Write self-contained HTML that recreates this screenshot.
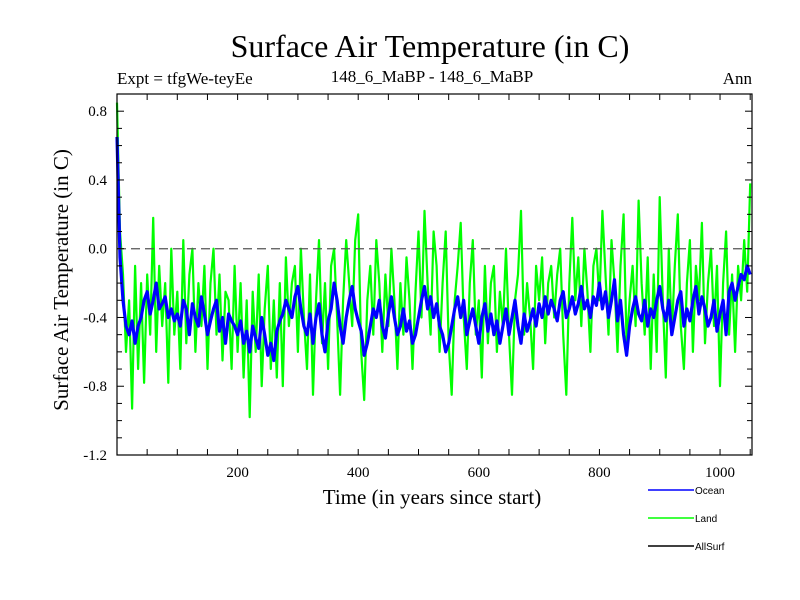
<!DOCTYPE html>
<html><head><meta charset="utf-8"><style>
html,body{margin:0;padding:0;background:#fff;width:800px;height:600px;overflow:hidden}
svg{display:block}
</style></head><body>
<svg id="chart" width="800" height="600" xmlns="http://www.w3.org/2000/svg">
<text x="430" y="57" text-anchor="middle" font-family="Liberation Serif, serif" font-size="32">Surface Air Temperature (in C)</text>
<text x="117" y="84" font-family="Liberation Serif, serif" font-size="17">Expt = tfgWe-teyEe</text>
<text x="432" y="82" text-anchor="middle" font-family="Liberation Serif, serif" font-size="17">148_6_MaBP - 148_6_MaBP</text>
<text x="752" y="84" text-anchor="end" font-family="Liberation Serif, serif" font-size="17">Ann</text>
<text transform="translate(68,280) rotate(-90)" text-anchor="middle" font-family="Liberation Serif, serif" font-size="21">Surface Air Temperature (in C)</text>
<text x="432" y="504" text-anchor="middle" font-family="Liberation Serif, serif" font-size="21">Time (in years since start)</text>
<g id="plot"></g>
<g id="legend"></g>
</svg>
<script>
const years=[];for(let i=0;i<=210;i++)years.push(i*5);
const oceanValues=[0.65,-0.05,-0.3,-0.45,-0.5,-0.42,-0.55,-0.45,-0.4,-0.3,-0.25,-0.38,-0.3,-0.2,-0.35,-0.32,-0.28,-0.4,-0.35,-0.42,
-0.38,-0.45,-0.3,-0.35,-0.5,-0.32,-0.4,-0.45,-0.28,-0.38,-0.5,-0.42,-0.35,-0.3,-0.48,-0.4,-0.55,-0.38,-0.42,-0.45,
-0.5,-0.42,-0.55,-0.48,-0.6,-0.45,-0.52,-0.58,-0.4,-0.5,-0.62,-0.55,-0.65,-0.48,-0.42,-0.38,-0.3,-0.35,-0.4,-0.28,
-0.22,-0.35,-0.45,-0.5,-0.38,-0.55,-0.4,-0.32,-0.5,-0.6,-0.42,-0.35,-0.2,-0.3,-0.45,-0.55,-0.4,-0.3,-0.22,-0.35,
-0.42,-0.48,-0.62,-0.55,-0.45,-0.35,-0.4,-0.3,-0.45,-0.52,-0.38,-0.28,-0.4,-0.5,-0.45,-0.35,-0.48,-0.42,-0.55,-0.5,
-0.4,-0.3,-0.22,-0.35,-0.28,-0.4,-0.32,-0.45,-0.5,-0.6,-0.55,-0.45,-0.35,-0.28,-0.4,-0.3,-0.5,-0.42,-0.35,-0.45,
-0.55,-0.4,-0.32,-0.48,-0.38,-0.5,-0.42,-0.55,-0.45,-0.35,-0.5,-0.4,-0.3,-0.45,-0.55,-0.38,-0.48,-0.42,-0.35,-0.45,
-0.32,-0.4,-0.28,-0.38,-0.3,-0.35,-0.42,-0.3,-0.25,-0.4,-0.35,-0.28,-0.38,-0.32,-0.22,-0.35,-0.3,-0.4,-0.28,-0.33,
-0.2,-0.35,-0.25,-0.4,-0.3,-0.18,-0.42,-0.3,-0.5,-0.62,-0.45,-0.35,-0.28,-0.38,-0.42,-0.3,-0.45,-0.35,-0.4,-0.3,
-0.22,-0.35,-0.42,-0.3,-0.5,-0.4,-0.3,-0.25,-0.45,-0.35,-0.42,-0.3,-0.22,-0.38,-0.28,-0.35,-0.45,-0.4,-0.3,-0.48,
-0.38,-0.3,-0.5,-0.25,-0.2,-0.3,-0.22,-0.15,-0.18,-0.1,-0.15];
const landValues=[0.85,0.1,-0.15,-0.6,-0.3,-0.93,-0.1,-0.7,-0.2,-0.78,-0.15,-0.5,0.18,-0.6,-0.1,-0.45,-0.2,-0.78,0.0,-0.5,
-0.25,-0.7,0.05,-0.55,-0.15,0.0,-0.6,-0.2,-0.45,-0.1,-0.7,-0.2,0.0,-0.5,-0.15,-0.65,-0.25,-0.3,-0.7,-0.1,
-0.6,-0.2,-0.75,-0.3,-0.98,-0.25,-0.6,-0.15,-0.8,-0.35,-0.1,-0.7,-0.3,-0.75,-0.2,-0.8,-0.05,-0.45,-0.2,-0.1,
-0.6,0.0,-0.4,-0.7,-0.15,-0.85,-0.3,0.05,-0.55,-0.2,-0.7,-0.1,0.0,-0.4,-0.85,-0.3,0.05,-0.2,-0.45,0.05,
0.2,-0.6,-0.88,-0.3,-0.1,-0.5,0.05,-0.2,-0.6,-0.15,-0.45,0.0,-0.3,-0.7,-0.2,-0.5,-0.05,-0.3,-0.7,-0.25,
0.1,-0.4,0.22,-0.2,-0.5,0.1,-0.1,-0.6,-0.2,0.1,-0.55,-0.85,-0.3,-0.1,0.15,-0.4,-0.7,-0.2,0.05,-0.5,
-0.3,-0.75,-0.1,-0.55,-0.2,-0.1,-0.6,-0.25,-0.45,0.0,-0.5,-0.85,-0.3,-0.15,0.22,-0.5,-0.2,-0.4,-0.7,-0.1,
-0.3,-0.05,-0.55,-0.2,-0.1,-0.4,-0.15,0.0,-0.5,-0.85,-0.2,0.18,-0.3,-0.05,-0.45,0.0,-0.25,-0.6,-0.1,0.0,
-0.3,0.22,-0.15,-0.5,0.05,-0.2,-0.6,-0.1,0.2,-0.55,-0.3,-0.1,-0.45,0.28,-0.2,-0.5,-0.05,-0.7,-0.15,-0.6,
0.3,-0.3,-0.75,0.0,-0.5,-0.1,0.2,-0.45,-0.7,-0.2,0.05,-0.6,-0.1,-0.3,0.15,-0.55,-0.2,0.0,-0.45,-0.1,
-0.8,-0.2,0.1,-0.5,-0.15,-0.6,-0.1,-0.3,0.05,-0.25,0.38];
const yTickLabels=["0.8","0.4","0.0","-0.4","-0.8","-1.2"];
const xTickLabels=["200","400","600","800","1000"];
const NS="http://www.w3.org/2000/svg";
const L=117,R=752,T=94,B=455,XMAX=1053,YMIN=-1.2,YMAX=0.9;
const xs=v=>L+v/XMAX*(R-L);
const ys=v=>B-(v-YMIN)/(YMAX-YMIN)*(B-T);
const plot=document.getElementById('plot');
function mk(tag,attrs,parent){const e=document.createElementNS(NS,tag);for(const k in attrs)e.setAttribute(k,attrs[k]);(parent||plot).appendChild(e);return e;}
function series(vals){return years.slice(0,vals.length).map((y,i)=>(i?'L':'M')+xs(y).toFixed(1)+','+ys(vals[i]).toFixed(1)).join('');}
const land=mk('path',{d:series(landValues),fill:'none',stroke:'#00ff00','stroke-width':'2.2','stroke-linejoin':'round'});


const ocean=mk('path',{d:series(oceanValues),fill:'none',stroke:'#0000ff','stroke-width':'3.2','stroke-linejoin':'round'});


const z=mk('line',{x1:L,x2:R,y1:ys(0),y2:ys(0),stroke:'#555','stroke-dasharray':'9,5','stroke-width':'1.2'});


const fr=mk('rect',{x:L,y:T,width:R-L,height:B-T,fill:'none',stroke:'#000','stroke-width':'1.2'});


for(let v=50;v<XMAX;v+=50){const x=xs(v);mk('line',{x1:x,x2:x,y1:B,y2:B-6,stroke:'#000'});mk('line',{x1:x,x2:x,y1:T,y2:T+6,stroke:'#000'});}
for(let k=-12;k<=9;k++){const y=ys(k/10);const len=(k%4===0)?7:5;mk('line',{x1:L,x2:L+len,y1:y,y2:y,stroke:'#000'});mk('line',{x1:R,x2:R-len,y1:y,y2:y,stroke:'#000'});}
yTickLabels.forEach(s=>{const t=mk('text',{x:L-10,y:ys(parseFloat(s))+5,'text-anchor':'end','font-family':'Liberation Serif, serif','font-size':'15'});t.textContent=s;

});
xTickLabels.forEach(s=>{const t=mk('text',{x:xs(parseFloat(s)),y:B+22,'text-anchor':'middle','font-family':'Liberation Serif, serif','font-size':'15'});t.textContent=s;

});
const lg=document.getElementById('legend');
[["Ocean","#0000ff",490],["Land","#00ff00",518],["AllSurf","#000",546]].forEach(([n,c,y])=>{
const g=mk('g',{},lg);


mk('line',{x1:648,x2:694,y1:y,y2:y,stroke:c,'stroke-width':'1.5'},g);
const t=mk('text',{x:695,y:y+4,'font-family':'Liberation Sans, sans-serif','font-size':'10'},g);t.textContent=n;});
</script>
</body></html>
